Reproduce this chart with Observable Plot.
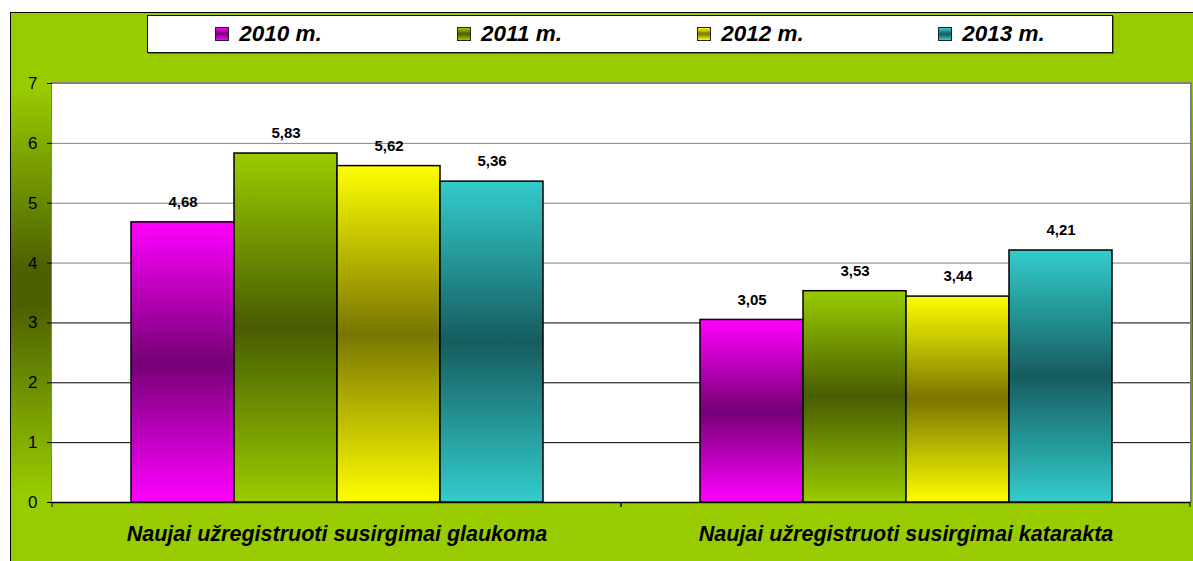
<!DOCTYPE html>
<html>
<head>
<meta charset="utf-8">
<script src="https://cdn.jsdelivr.net/npm/d3@7"></script>
<script src="https://cdn.jsdelivr.net/npm/@observablehq/plot@0.6"></script>
<style>
html, body { margin: 0; padding: 0; background: #fff; }
#wrap { position: relative; width: 1193px; height: 561px; overflow: hidden; font-family: "Liberation Sans", Arial, sans-serif; }
#bg { position: absolute; left: 10px; top: 12px; width: 1200px; height: 560px; border-left: 1px solid #000; border-top: 1px solid #000;
  background: linear-gradient(to bottom, #99cc00 0%, #99cc00 13%, #4b6000 46%, #4b6000 52%, #99cc00 86%, #99cc00 100%); }
#area { position: absolute; left: 51px; top: 82px; width: 1138px; height: 420px; background: #fff; border-top: 1px solid #808080; border-left: 1px solid #808080; border-right: 2px solid #808080; }
#chart { position: absolute; left: 0; top: 0; }
#legend { position: absolute; left: 147px; top: 15px; width: 964px; height: 36px; background: #fff; border: 1px solid #111; box-shadow: 1px 1px 0 #666; display: flex; }
.item { flex: 1; display: flex; align-items: center; justify-content: center; }
.sw { width: 12px; height: 12px; border: 1px solid #222; margin-right: 10px; }
.lab { font-weight: bold; font-style: italic; font-size: 22.5px; color: #000; }
</style>
</head>
<body>
<div id="wrap">
  <div id="bg"></div>
  <div id="area"></div>
  <svg id="defs" width="0" height="0" style="position:absolute;left:0;top:0"><defs></defs></svg>
  <div id="chart"></div>
  <div id="legend"></div>
</div>
<script>
// ---- data ----
const categories = ["Naujai užregistruoti susirgimai glaukoma", "Naujai užregistruoti susirgimai katarakta"];
const years = ["2010 m.", "2011 m.", "2012 m.", "2013 m."];
const glaukoma = [4.68, 5.83, 5.62, 5.36];
const katarakta = [3.05, 3.53, 3.44, 4.21];
const yTicks = [0, 1, 2, 3, 4, 5, 6, 7];
const lightColors = ["#ff00ff", "#99cc00", "#ffff00", "#33cccc"];
const darkColors = ["#760076", "#485c00", "#787600", "#165c5e"];

const seriesByCategory = [glaukoma, katarakta];
const rows = categories.flatMap((c, i) => years.map((y, j) => ({category: c, year: y, idx: j, value: seriesByCategory[i][j]})));

// ---- gradients ----
const defs = d3.select("#defs defs");
years.forEach((y, j) => {
  const g = defs.append("linearGradient").attr("id", "grad" + j)
    .attr("x1", 0).attr("y1", 0).attr("x2", 0).attr("y2", 1);
  g.append("stop").attr("offset", "0%").attr("stop-color", lightColors[j]);
  g.append("stop").attr("offset", "50%").attr("stop-color", darkColors[j]);
  g.append("stop").attr("offset", "100%").attr("stop-color", lightColors[j]);
});

// ---- legend ----
const legend = d3.select("#legend");
years.forEach((y, j) => {
  const it = legend.append("div").attr("class", "item");
  it.append("div").attr("class", "sw")
    .style("background", `linear-gradient(to bottom, ${lightColors[j]} 0%, ${darkColors[j]} 50%, ${lightColors[j]} 100%)`);
  it.append("span").attr("class", "lab").text(y);
});

const fmt = v => v.toFixed(2).replace(".", ",");

// boundary ticks on the category axis (rendered in each facet)
function boundaryTicks(index, scales, values, dims) {
  const g = d3.create("svg:g");
  const y0 = scales.y(0);
  const xs = [dims.marginLeft, dims.width - dims.marginRight];
  for (const x of xs) {
    g.append("line").attr("x1", x).attr("x2", x).attr("y1", y0).attr("y2", y0 + 5)
      .attr("stroke", "#000").attr("stroke-width", 1);
  }
  return g.node();
}

const chart = Plot.plot({
  width: 1193,
  height: 561,
  marginLeft: 52,
  marginRight: 3,
  marginTop: 83,
  marginBottom: 59,
  style: {background: "transparent", fontFamily: '"Liberation Sans", Arial, sans-serif', color: "#000", overflow: "visible"},
  fx: {domain: categories, padding: 0, label: null},
  x: {domain: years, paddingInner: 0, paddingOuter: 0.75, axis: null},
  y: {domain: [0, 7], label: null},
  color: {type: "identity"},
  marks: [
    Plot.gridY(yTicks.slice(1), {stroke: d => (d >= 4 ? "#808080" : "#000"), strokeOpacity: 1}),
    Plot.ruleY([0], {stroke: "#000", strokeWidth: 1.5}),
    boundaryTicks,
    Plot.axisY(yTicks, {tickSize: 5, tickPadding: 10, fontSize: 17, tickFormat: d => String(d)}),
    Plot.axisFx({anchor: "bottom", tickSize: 0, tickPadding: 23, fontSize: 21.5, fontWeight: "bold", fontStyle: "italic", label: null}),
    Plot.barY(rows, {fx: "category", x: "year", y: "value", fill: d => `url(#grad${d.idx})`, stroke: "#000", strokeWidth: 1.5}),
    Plot.text(rows, {fx: "category", x: "year", y: "value", text: d => fmt(d.value), dy: -20, fontWeight: "bold", fontSize: 15, fill: "#000"})
  ]
});
document.getElementById("chart").appendChild(chart);
</script>
</body>
</html>
